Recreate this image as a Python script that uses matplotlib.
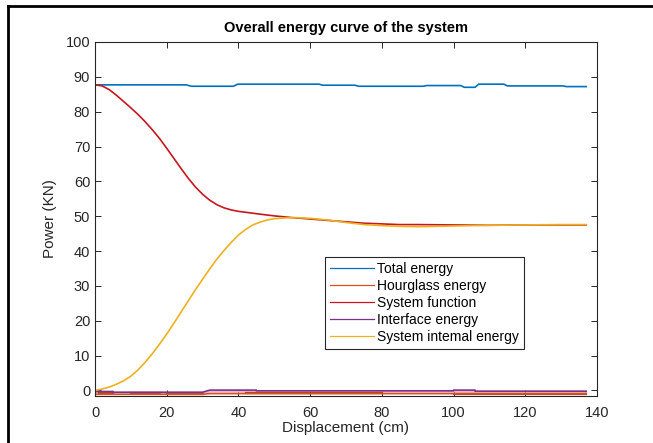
import matplotlib
matplotlib.use("Agg")
import matplotlib.pyplot as plt
import numpy as np
from matplotlib.lines import Line2D

plt.rcParams['font.family'] = ['Liberation Sans', 'DejaVu Sans']

# 总能量（带小台阶）
x_total = [0, 25.5, 26.8, 38.6, 39.8, 62.5, 63.5, 72.5, 73.5, 91.5, 92.5, 102, 103, 106, 107, 114, 115, 130.5, 131.5, 137]
y_total = [87.7, 87.7, 87.3, 87.3, 87.9, 87.9, 87.6, 87.6, 87.3, 87.3, 87.5, 87.5, 87.0, 87.0, 87.9, 87.9, 87.4, 87.4, 87.2, 87.2]

# 系统函数曲线
x_sys = [0, 2, 4, 6, 8, 10, 12, 14, 16, 18, 20, 22, 24, 26, 28, 30, 32, 34, 36, 38, 40, 43, 46,
         50, 55, 60, 65, 70, 75, 80, 85, 90, 100, 110, 120, 130, 137]
y_sys = [87.7, 87.4, 86.3, 84.7, 82.9, 81.1, 79.2, 77.1, 74.8, 72.3, 69.5, 66.6, 63.7, 60.9, 58.4,
         56.3, 54.6, 53.3, 52.4, 51.8, 51.4, 51.0, 50.6, 50.1, 49.6, 49.2, 48.8, 48.4, 48.0, 47.8,
         47.6, 47.6, 47.5, 47.4, 47.5, 47.5, 47.5]

# 系统内能曲线
x_int = [0, 2, 4, 6, 8, 10, 12, 14, 16, 18, 20, 22, 24, 26, 28, 30, 32, 34, 36, 38, 40, 42, 44,
         46, 48, 50, 53, 56, 60, 65, 70, 75, 80, 85, 90, 95, 100, 110, 120, 130, 137]
y_int = [0, 0.4, 1.0, 1.8, 2.8, 4.1, 5.9, 8.1, 10.6, 13.3, 16.2, 19.3, 22.5, 25.7, 28.9, 31.9,
         34.9, 37.7, 40.2, 42.5, 44.6, 46.2, 47.5, 48.3, 48.9, 49.3, 49.5, 49.6, 49.4, 48.9, 48.2,
         47.6, 47.3, 47.1, 47.0, 47.1, 47.2, 47.4, 47.5, 47.6, 47.6]

# 沙漏能
x_hg = [0, 30, 32, 137]
y_hg = [-1.1, -1.1, -0.9, -0.9]

# 界面能
x_if = [0, 5, 5, 30, 32, 45, 45, 100, 100, 106, 106, 137]
y_if = [-0.3, -0.3, -0.5, -0.5, 0.1, 0.1, -0.1, -0.1, 0.1, 0.1, -0.2, -0.2]

# 其他底部小量
x_pk = [0, 30, 32, 137]
y_pk = [-0.7, -0.7, -0.4, -0.4]
x_dr = [1, 5, np.nan, 10, 18, np.nan, 20, 30, np.nan, 42, 80, np.nan, 100, 137]
y_dr = [-0.6, -0.6, np.nan, -0.6, -0.6, np.nan, -0.9, -0.9, np.nan, -0.6, -0.6, np.nan, -1.0, -1.0]

fig = plt.figure(figsize=(6.53, 4.43), dpi=100)
ax = fig.add_axes([0.1455, 0.1068, 0.7687, 0.7984])

ax.plot(x_pk, y_pk, color='#E3B5D5', lw=1.2, label='_nolegend_')
ax.plot(x_dr, y_dr, color='#B5402A', lw=1.6, label='_nolegend_')
l1, = ax.plot(x_total, y_total, color='#0072BD', lw=1.2, label='Total energy')
l2, = ax.plot(x_hg, y_hg, color='#D95319', lw=1.2, label='Hourglass energy')
l3, = ax.plot(x_sys, y_sys, color='#C8161E', lw=1.2, label='System function')
l4, = ax.plot(x_if, y_if, color='#7E2F8E', lw=1.2, label='Interface energy')
l5, = ax.plot(x_int, y_int, color='#EDB120', lw=1.2, label='System intemal energy')

ax.set_xlim(0, 140)
ax.set_ylim(-1.5, 100)
ax.set_xticks(np.arange(0, 141, 20))
ax.set_yticks(np.arange(0, 101, 10))
ax.tick_params(direction='in', top=True, right=True, length=4, width=0.7,
               colors='#262626', labelsize=10.5, labelcolor='#262626')
ax.tick_params(axis='x', pad=7.5)
for s in ax.spines.values():
    s.set_color('#262626')
    s.set_linewidth(0.8)

ax.set_title('Overall energy curve of the system', fontsize=10.5, fontweight='bold', pad=7)
ax.set_xlabel('Displacement (cm)', fontsize=11, color='#262626', labelpad=1)
ax.set_ylabel('Power (KN)', fontsize=11, color='#262626', labelpad=6)

leg = ax.legend(handles=[l1, l2, l3, l4, l5], loc='upper left', bbox_to_anchor=(0.458, 0.392),
                borderaxespad=0, fontsize=10, frameon=True, fancybox=False, framealpha=1,
                edgecolor='#262626', handlelength=3.2, handletextpad=0.2, labelspacing=0.22,
                borderpad=0.35)
leg.get_frame().set_linewidth(0.8)
for h in leg.get_lines():
    h.set_linewidth(0.9)

# 外框（上边和左边）
fig.add_artist(Line2D([0.0123, 1.0], [0.9865, 0.9865], color='black', lw=2.0, transform=fig.transFigure))
fig.add_artist(Line2D([0.0123, 0.0123], [0.0, 0.9865], color='black', lw=2.0, transform=fig.transFigure))

fig.savefig('out.png', dpi=100)
